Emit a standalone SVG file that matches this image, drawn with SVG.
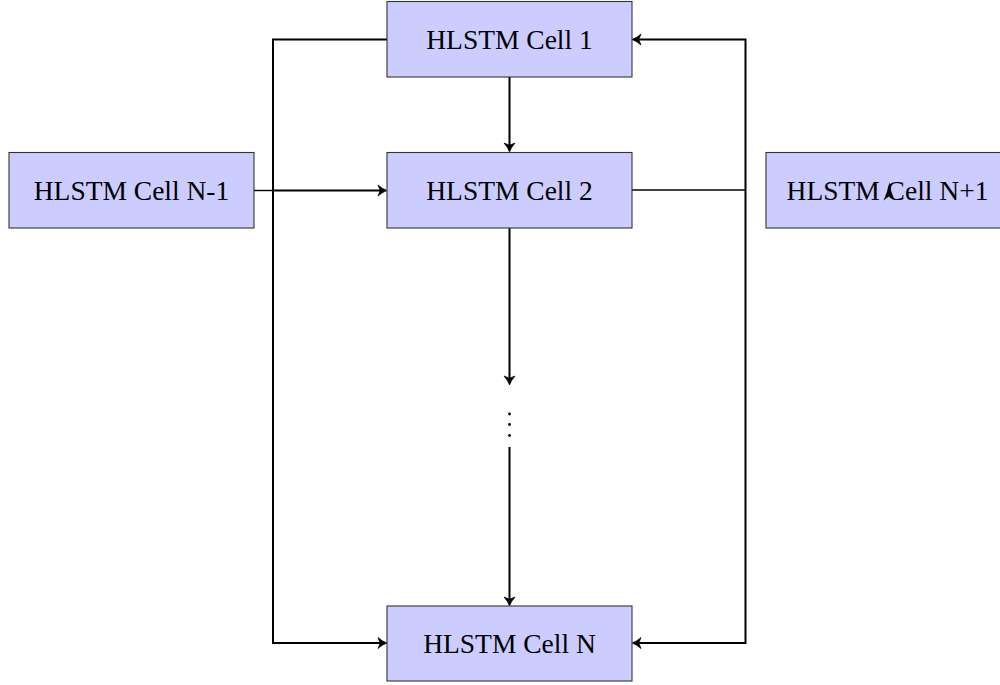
<svg xmlns="http://www.w3.org/2000/svg" width="1000" height="685" viewBox="0 0 1000 685">
  <style>
    .box { fill: #ccccff; stroke: #333333; stroke-width: 1.1; }
    .lbl { font-family: "Liberation Serif", "Times New Roman", serif; font-size: 27.5px; fill: #000; text-anchor: middle; }
    .ln { fill: none; stroke: #000; stroke-width: 2; }
    .thin { fill: none; stroke: #000; stroke-width: 1.4; }
  </style>
  <defs>
    <marker id="arr" markerUnits="userSpaceOnUse" viewBox="-12 -7 14 14" markerWidth="14" markerHeight="14" refX="-2" refY="0" orient="auto">
      <path d="M0,0 Q-4.5,-1.5 -9,-5.5 L-6.8,0 L-9,5.5 Q-4.5,1.5 0,0 Z" fill="#000" stroke="#000" stroke-width="0.7" stroke-linejoin="round"/>
    </marker>
  </defs>
  <rect width="1000" height="685" fill="#fff"/>

  <g id="connectors">
    <polyline class="ln" points="387,39.5 273,39.5 273,643 385,643" marker-end="url(#arr)"/>
    <line class="thin" x1="254" y1="190.5" x2="273" y2="190.5"/>
    <line class="ln" x1="273" y1="190.5" x2="385" y2="190.5" marker-end="url(#arr)"/>
    <line class="ln" x1="509.5" y1="77" x2="509.5" y2="150" marker-end="url(#arr)"/>
    <line class="ln" x1="509.5" y1="228" x2="509.5" y2="383" marker-end="url(#arr)"/>
    <line class="ln" x1="509.5" y1="447" x2="509.5" y2="604" marker-end="url(#arr)"/>
    <line class="thin" x1="632" y1="190" x2="745.5" y2="190"/>
    <polyline class="ln" points="745.5,190 745.5,39.5 634,39.5" marker-end="url(#arr)"/>
    <polyline class="ln" points="745.5,190 745.5,643 634,643" marker-end="url(#arr)"/>
  </g>

  <g id="cell-1">
    <rect class="box" x="387" y="1.5" width="245" height="75.5"/>
    <text class="lbl" x="509.5" y="49">HLSTM Cell 1</text>
  </g>
  <g id="cell-2">
    <rect class="box" x="387" y="152.5" width="245" height="75.5"/>
    <text class="lbl" x="509.5" y="200">HLSTM Cell 2</text>
  </g>
  <g id="cell-n-minus-1">
    <rect class="box" x="9" y="152.5" width="245" height="75.5"/>
    <text class="lbl" x="131.5" y="200">HLSTM Cell N-1</text>
  </g>
  <g id="cell-n-plus-1">
    <rect class="box" x="766" y="152.5" width="243" height="75.5"/>
    <text class="lbl" x="887.5" y="200">HLSTM Cell N+1</text>
    <path d="M889.5,182 Q890,191 895,200 L889.5,196 L883.5,200.5 Q888,191 889.5,182 Z" fill="#000"/>
  </g>
  <g id="dots">
    <circle cx="509.5" cy="414" r="1.4" fill="#000"/>
    <circle cx="509.5" cy="424.5" r="1.4" fill="#000"/>
    <circle cx="509.5" cy="435.5" r="1.4" fill="#000"/>
  </g>
  <g id="cell-n">
    <rect class="box" x="387" y="606" width="245" height="75"/>
    <text class="lbl" x="509.5" y="653">HLSTM Cell N</text>
  </g>
</svg>
